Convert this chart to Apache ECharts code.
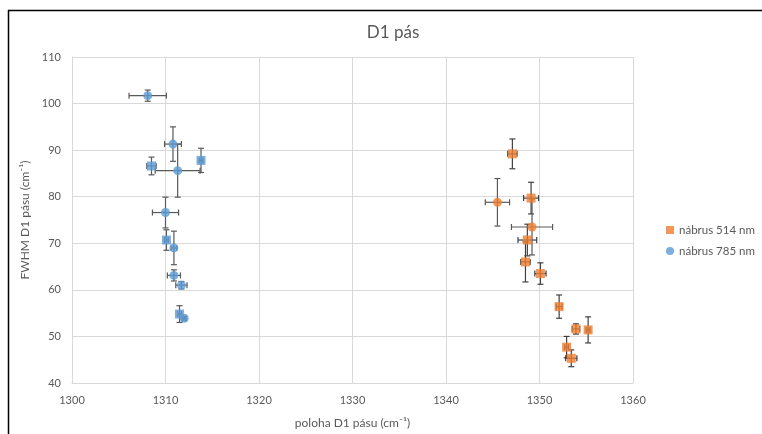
<!DOCTYPE html>
<html><head><meta charset="utf-8">
<script src="https://cdn.jsdelivr.net/npm/echarts@6/dist/echarts.min.js"></script>
<style>html,body{margin:0;padding:0;background:#fff}#c{width:762px;height:434px}</style>
</head><body><div id="c"></div>
<script>
// ---- data (x = poloha D1 pásu, y = FWHM, with x/y errors) ----
const xTicks = [1300, 1310, 1320, 1330, 1340, 1350, 1360];
const yTicks = [40, 50, 60, 70, 80, 90, 100, 110];

// nábrus 514 nm (orange squares)
const o514X    = [1347.1, 1349.1, 1348.7, 1348.5, 1350.1, 1352.1, 1353.9, 1355.2, 1352.9, 1353.4];
const o514Y    = [89.2, 79.7, 70.7, 66.0, 63.5, 56.4, 51.6, 51.4, 47.7, 45.3];
const o514Xerr = [0.5, 0.8, 1.0, 0.5, 0.6, 0.3, 0.4, 0.2, 0.2, 0.6];
const o514Yerr = [3.2, 3.4, 3.4, 4.3, 2.3, 2.5, 1.1, 2.8, 2.3, 1.8];
// orange circles (no legend entry)
const o2X    = [1345.5, 1349.2];
const o2Y    = [78.8, 73.5];
const o2Xerr = [1.3, 2.2];
const o2Yerr = [5.1, 6.0];
// nábrus 785 nm (blue circles)
const b785X    = [1308.1, 1310.8, 1311.3, 1310.0, 1310.9, 1310.9, 1311.7, 1312.0];
const b785Y    = [101.7, 91.3, 85.6, 76.6, 69.0, 63.1, 61.0, 53.9];
const b785Xerr = [2.0, 0.9, 2.4, 1.4, 0.3, 0.7, 0.6, 0.2];
const b785Yerr = [1.2, 3.7, 5.7, 3.3, 3.6, 1.2, 0.8, 0.4];
// blue squares (no legend entry)
const b2X    = [1313.8, 1308.5, 1310.1, 1311.5];
const b2Y    = [87.8, 86.6, 70.7, 54.8];
const b2Xerr = [0.2, 0.5, 0.2, 0.2];
const b2Yerr = [2.6, 1.9, 2.2, 1.8];

const ORANGE = '#ED7D31', BLUE = '#5B9BD5';
const TXT = '#595959', GRID = '#d9d9d9';
const FONT = 'Lato, "Open Sans", sans-serif';

function pts(xs, ys) { return xs.map((x, i) => [x, ys[i]]); }
function errData(xs, ys, ex, ey) { return xs.map((x, i) => [x, ys[i], ex[i], ey[i]]); }

function errSeries(data, color) {
  return {
    type: 'custom', silent: true, z: 1,
    renderItem: function (params, api) {
      const x = api.value(0), y = api.value(1), ex = api.value(2), ey = api.value(3);
      const c = api.coord([x, y]);
      const l = api.coord([x - ex, y]), r = api.coord([x + ex, y]);
      const t = api.coord([x, y + ey]), b = api.coord([x, y - ey]);
      const cap = 3;
      const st = { stroke: color, lineWidth: 1.2 };
      const L = (x1, y1, x2, y2) => ({ type: 'line', shape: { x1, y1, x2, y2 }, style: st });
      return { type: 'group', children: [
        L(l[0], c[1], r[0], c[1]),
        L(l[0], c[1] - cap, l[0], c[1] + cap),
        L(r[0], c[1] - cap, r[0], c[1] + cap),
        L(c[0], t[1], c[0], b[1]),
        L(c[0] - cap, t[1], c[0] + cap, t[1]),
        L(c[0] - cap, b[1], c[0] + cap, b[1])
      ]};
    },
    data: data
  };
}

const chart = echarts.init(document.getElementById('c'), null, { renderer: 'canvas' });
chart.setOption({
  animation: false,
  backgroundColor: '#fff',
  textStyle: { fontFamily: FONT },
  title: {
    text: 'D1 pás', left: 388, top: 19, textAlign: 'center',
    textStyle: { color: TXT, fontSize: 17, fontWeight: 'normal', fontFamily: FONT }
  },
  legend: {
    orient: 'vertical', left: 661, top: 219, itemGap: 9,
    itemWidth: 8, itemHeight: 8,
    textStyle: { color: TXT, fontSize: 11.5, fontFamily: FONT },
    data: [
      { name: 'nábrus 514 nm', icon: 'rect' },
      { name: 'nábrus 785 nm', icon: 'circle' }
    ]
  },
  grid: { left: 72, right: 129, top: 57, bottom: 51, containLabel: false },
  xAxis: {
    type: 'value', min: xTicks[0], max: xTicks[xTicks.length - 1], interval: 10,
    name: 'poloha D1 pásu (cm⁻¹)', nameLocation: 'middle', nameGap: 34,
    nameTextStyle: { color: TXT, fontSize: 12, fontFamily: FONT },
    axisLine: { show: true, lineStyle: { color: GRID, width: 1 } },
    axisTick: { show: false },
    axisLabel: { color: TXT, fontSize: 11, margin: 12, fontFamily: FONT,
      formatter: v => String(v) },
    splitLine: { show: true, lineStyle: { color: GRID, width: 1 } }
  },
  yAxis: {
    type: 'value', min: yTicks[0], max: yTicks[yTicks.length - 1], interval: 10,
    name: 'FWHM D1 pásu (cm⁻¹)', nameLocation: 'middle', nameGap: 32, nameRotate: 90,
    nameTextStyle: { color: TXT, fontSize: 12, fontFamily: FONT },
    axisLine: { show: true, lineStyle: { color: GRID, width: 1 } },
    axisTick: { show: false },
    axisLabel: { color: TXT, fontSize: 11, margin: 11, fontFamily: FONT,
      formatter: v => String(v) },
    splitLine: { show: true, lineStyle: { color: GRID, width: 1 } }
  },
  graphic: [
    { type: 'line', shape: { x1: 8.5, y1: 10, x2: 8.5, y2: 434 }, style: { stroke: '#000', lineWidth: 1.5 }, silent: true },
    { type: 'line', shape: { x1: 8, y1: 10.5, x2: 762, y2: 10.5 }, style: { stroke: '#000', lineWidth: 1.5 }, silent: true }
  ],
  series: [
    errSeries(errData(o514X, o514Y, o514Xerr, o514Yerr), '#404040'),
    errSeries(errData(o2X, o2Y, o2Xerr, o2Yerr), '#595959'),
    errSeries(errData(b785X, b785Y, b785Xerr, b785Yerr), '#595959'),
    errSeries(errData(b2X, b2Y, b2Xerr, b2Yerr), '#595959'),
    { name: 'nábrus 514 nm', type: 'scatter', symbol: 'rect', symbolSize: 9, z: 3,
      itemStyle: { color: ORANGE }, data: pts(o514X, o514Y) },
    { name: 'o2', type: 'scatter', symbol: 'circle', symbolSize: 9, z: 3,
      itemStyle: { color: ORANGE }, data: pts(o2X, o2Y) },
    { name: 'nábrus 785 nm', type: 'scatter', symbol: 'circle', symbolSize: 9, z: 3,
      itemStyle: { color: BLUE }, data: pts(b785X, b785Y) },
    { name: 'b2', type: 'scatter', symbol: 'rect', symbolSize: 9, z: 3,
      itemStyle: { color: BLUE }, data: pts(b2X, b2Y) }
  ]
});
</script></body></html>
